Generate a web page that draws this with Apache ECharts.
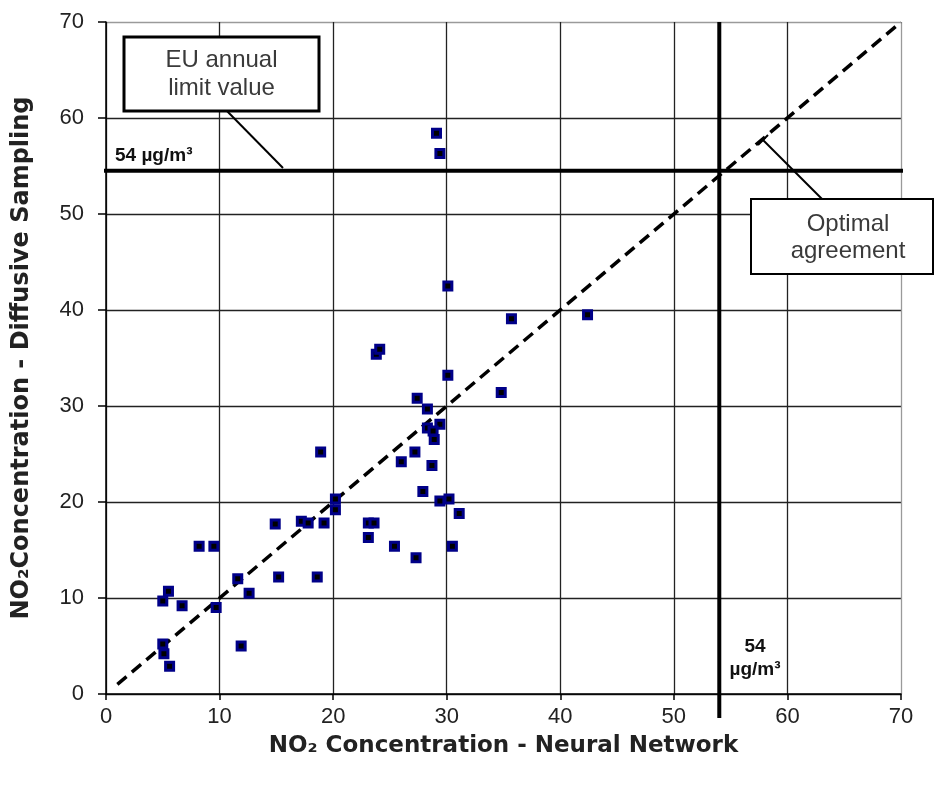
<!DOCTYPE html>
<html>
<head>
<meta charset="utf-8">
<script src="https://cdn.jsdelivr.net/npm/echarts@6/dist/echarts.min.js"></script>
<style>html,body{margin:0;padding:0;background:#fff}#c{width:943px;height:787px}</style>
</head>
<body>
<div id="c"></div>
<script>
// Data: [Neural Network, Diffusive Sampling]
var neuralNetwork = [29.1,29.4,30.1,35.7,42.4,23.8,24.1,30.1,34.8,27.4,28.3,29.4,28.3,28.8,28.9,27.2,26.0,28.7,18.9,27.9,20.2,20.2,29.4,30.2,31.1,14.9,17.2,17.8,19.2,23.1,23.6,23.1,25.4,27.3,30.5,8.2,9.5,11.6,15.2,18.6,5.5,5.0,6.7,9.7,12.6,5.0,5.1,5.6,11.9];
var diffusiveSampling = [58.4,56.3,42.5,39.1,39.5,35.4,35.9,33.2,31.4,30.8,29.7,28.1,27.7,27.4,26.5,25.2,24.2,23.8,25.2,21.1,20.3,19.2,20.1,20.3,18.8,17.7,18.0,17.8,17.8,17.8,17.8,16.3,15.4,14.2,15.4,15.4,15.4,12.0,12.2,12.2,10.7,9.7,9.2,9.0,10.5,5.2,4.2,2.9,5.0];
var axisTicks = [0,10,20,30,40,50,60,70];
var limitValue = 54;          // EU annual limit (µg/m³)
var limitLineY = 54.5;        // drawn position of horizontal limit line
var agreementLine = [[1,1],[70,70]];

var points = neuralNetwork.map(function(x,i){return [x, diffusiveSampling[i]];});
var tMin = axisTicks[0], tMax = axisTicks[axisTicks.length-1], tStep = axisTicks[1]-axisTicks[0];
var gridColors = axisTicks.map(function(v,i){return i===axisTicks.length-1 ? '#9a9a9a' : '#222';});

var chart = echarts.init(document.getElementById('c'), null, {renderer:'canvas'});
var SANS = 'Liberation Sans, Arial, sans-serif';
var WIDE = 'DejaVu Sans, Verdana, sans-serif';
var labelFont = {fontFamily:SANS, fontSize:22, color:'#222'};
chart.setOption({
  animation:false,
  backgroundColor:'#fff',
  grid:{left:106, right:42, top:22, bottom:93},
  xAxis:{
    type:'value', min:tMin, max:tMax, interval:tStep,
    axisLine:{lineStyle:{color:'#000', width:1.5}},
    axisTick:{show:true, length:6, lineStyle:{color:'#000', width:1.5}},
    axisLabel:Object.assign({margin:12}, labelFont),
    splitLine:{show:true, lineStyle:{color:gridColors, width:1.3}},
    name:'NO₂ Concentration - Neural Network', nameLocation:'middle', nameGap:41,
    nameTextStyle:{fontFamily:WIDE, fontSize:23, fontWeight:'bold', color:'#222'}
  },
  yAxis:{
    type:'value', min:tMin, max:tMax, interval:tStep,
    axisLine:{show:true, lineStyle:{color:'#000', width:1.5}},
    axisTick:{show:true, length:8, lineStyle:{color:'#000', width:1.5}},
    axisLabel:Object.assign({margin:22}, labelFont),
    splitLine:{show:true, lineStyle:{color:gridColors, width:1.3}},
    name:'NO₂Concentration - Diffusive Sampling', nameLocation:'middle', nameGap:72,
    nameTextStyle:{fontFamily:WIDE, fontSize:24, fontWeight:'bold', color:'#222'}
  },
  series:[
    {type:'line', data:agreementLine, symbol:'none', clip:false, silent:true,
     lineStyle:{color:'#000', width:3.5, type:[12,7]}, z:3},
    {type:'line', data:[[-0.8,limitLineY],[70.2,limitLineY]], symbol:'none', clip:false, silent:true,
     lineStyle:{color:'#000', width:4}, z:4},
    {type:'line', data:[[limitValue,70],[limitValue,-2.5]], symbol:'none', clip:false, silent:true,
     lineStyle:{color:'#000', width:4}, z:4},
    {type:'scatter', data:points, symbol:'rect', symbolSize:8, z:5,
     itemStyle:{color:'#000', borderColor:'#000088', borderWidth:3, opacity:1}}
  ],
  graphic:[
    {type:'line', shape:{x1:225, y1:109, x2:283, y2:168}, style:{stroke:'#000', lineWidth:2}, z:10},
    {type:'rect', shape:{x:124, y:37, width:195, height:74}, style:{fill:'#fff', stroke:'#000', lineWidth:3}, z:10},
    {type:'text', x:221.5, y:74, style:{text:'EU annual\nlimit value', fontFamily:SANS, fontSize:24, lineHeight:28, fill:'#3a3a3a', align:'center', verticalAlign:'middle'}, z:11},
    {type:'line', shape:{x1:763, y1:140, x2:822, y2:199}, style:{stroke:'#000', lineWidth:2}, z:10},
    {type:'line', shape:{x1:758, y1:145, x2:768, y2:135}, style:{stroke:'#000', lineWidth:2}, z:10},
    {type:'rect', shape:{x:751, y:199, width:182, height:75}, style:{fill:'#fff', stroke:'#000', lineWidth:2}, z:10},
    {type:'text', x:848, y:238, style:{text:'Optimal\nagreement', fontFamily:SANS, fontSize:24, lineHeight:27, fill:'#3a3a3a', align:'center', verticalAlign:'middle'}, z:11},
    {type:'text', x:115, y:156, style:{text:'54 µg/m³', fontFamily:SANS, fontSize:19, fontWeight:'bold', fill:'#111', align:'left', verticalAlign:'middle'}, z:11},
    {type:'text', x:755, y:647, style:{text:'54', fontFamily:SANS, fontSize:19, fontWeight:'bold', fill:'#111', align:'center', verticalAlign:'middle'}, z:11},
    {type:'text', x:755, y:670, style:{text:'µg/m³', fontFamily:SANS, fontSize:19, fontWeight:'bold', fill:'#111', align:'center', verticalAlign:'middle'}, z:11}
  ]
});
</script>
</body>
</html>
